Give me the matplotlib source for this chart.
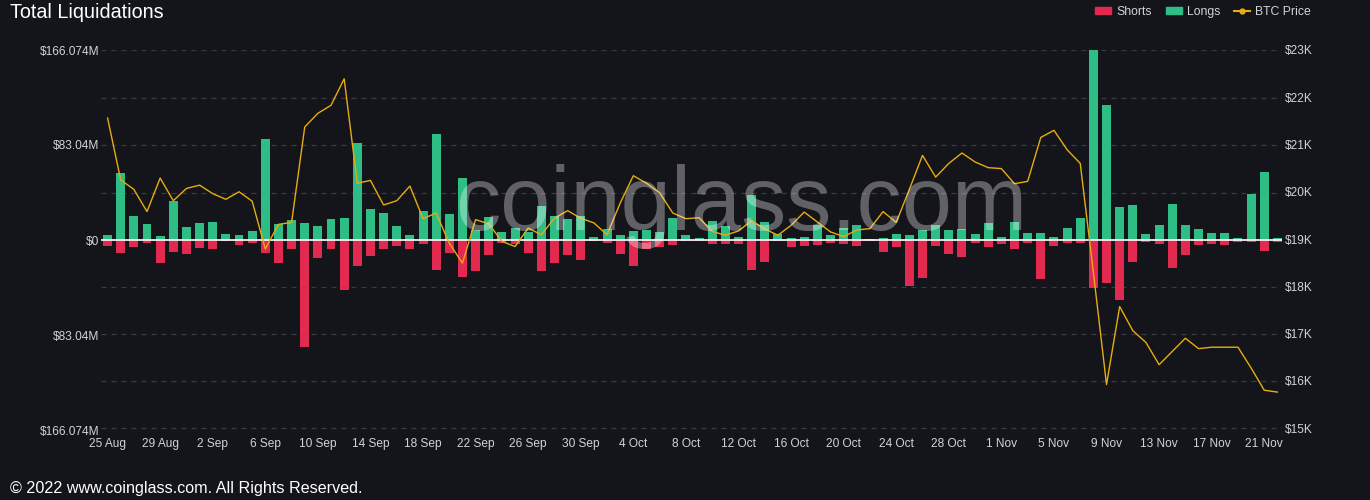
#Total liquidations (longs / shorts) with BTC price, coinglass style.
import matplotlib
matplotlib.use('Agg')
import matplotlib.pyplot as plt
from matplotlib.lines import Line2D
from matplotlib.patches import Patch
import numpy as np

# values in $M, one entry per day from 25 Aug to 22 Nov 2022
longs = [4.1, 58.6, 20.7, 13.7, 3.2, 34.4, 11.1, 15.2, 15.4, 5.2,
         4.7, 7.9, 88.3, 13.7, 17.2, 14.6, 12.2, 18.4, 18.9, 85.1,
         26.8, 23.6, 11.9, 4.1, 25.1, 93.0, 22.7, 54.5, 8.7, 19.8,
         6.7, 10.2, 7.3, 29.7, 21.0, 18.4, 20.7, 2.6, 9.6, 4.1,
         7.9, 8.5, 7.2, 19.0, 4.7, 1.4, 16.9, 12.2, 2.3, 39.3,
         16.0, 5.0, 2.0, 2.9, 13.4, 4.1, 10.8, 12.8, 0.9, 1.5,
         5.2, 4.4, 8.7, 12.8, 8.7, 9.3, 5.2, 14.6, 2.3, 15.7,
         5.8, 5.8, 2.3, 10.5, 18.9, 166.074, 117.7, 29.1, 30.3, 5.0,
         12.8, 31.2, 12.8, 9.3, 5.8, 5.8, 1.5, 40.2, 59.2, 1.5]
shorts = [5.0, 11.7, 5.8, 2.9, 19.8, 10.2, 11.9, 6.7, 7.6, 0.9,
          4.1, 2.9, 11.4, 20.4, 7.6, 93.2, 16.0, 7.6, 44.0, 22.7,
          13.7, 8.2, 5.5, 8.2, 3.2, 26.5, 11.1, 32.3, 26.7, 12.8,
          2.9, 3.5, 11.7, 26.8, 19.8, 13.4, 17.2, 0.6, 2.6, 12.2,
          22.4, 7.6, 6.4, 4.2, 1.0, 1.0, 3.2, 3.2, 3.8, 25.9,
          19.3, 0.8, 5.8, 5.2, 4.1, 2.3, 3.2, 5.0, 0.6, 10.8,
          6.1, 40.5, 33.5, 5.5, 11.9, 14.9, 2.3, 5.8, 3.2, 7.6,
          2.3, 34.4, 5.5, 2.3, 2.6, 42.3, 37.9, 52.2, 19.2, 2.0,
          3.2, 24.2, 13.4, 4.7, 3.8, 4.7, 1.7, 1.5, 9.9, 1.7]
# BTC price in $K
btc_price = [21.56, 20.25, 20.05, 19.58, 20.29, 19.81, 20.07, 20.14, 19.96, 19.84,
             20.00, 19.80, 18.79, 19.31, 19.35, 21.37, 21.66, 21.83, 22.39, 20.18,
             20.24, 19.72, 19.81, 20.12, 19.43, 19.55, 18.91, 18.49, 19.41, 19.32,
             18.95, 18.84, 19.23, 19.09, 19.44, 19.60, 19.44, 19.34, 19.09, 19.76,
             20.34, 20.18, 19.98, 19.55, 19.43, 19.45, 19.16, 19.08, 19.17, 19.39,
             19.21, 19.08, 19.29, 19.57, 19.36, 19.15, 19.05, 19.19, 19.22, 19.58,
             19.35, 20.05, 20.77, 20.31, 20.60, 20.82, 20.63, 20.51, 20.49, 20.17,
             20.22, 21.15, 21.30, 20.89, 20.60, 18.29, 15.92, 17.57, 17.06, 16.81,
             16.34, 16.62, 16.90, 16.68, 16.71, 16.71, 16.71, 16.27, 15.80, 15.76]
tick_labels = ['25 Aug', '29 Aug', '2 Sep', '6 Sep', '10 Sep', '14 Sep', '18 Sep',
               '22 Sep', '26 Sep', '30 Sep', '4 Oct', '8 Oct', '12 Oct', '16 Oct',
               '20 Oct', '24 Oct', '28 Oct', '1 Nov', '5 Nov', '9 Nov', '13 Nov',
               '17 Nov', '21 Nov']
left_ticks = [-166.074, -83.04, 0, 83.04, 166.074]
left_tick_labels = ['$166.074M', '$83.04M', '$0', '$83.04M', '$166.074M']
right_ticks = [15, 16, 17, 18, 19, 20, 21, 22, 23]

bg = '#14151a'
green = '#2ebd85'
red = '#e2294f'
gold = '#e6ac10'
txt = '#d2d3d6'
grid_c = '#3a3b42'

plt.rcParams['font.family'] = ['Liberation Sans', 'DejaVu Sans']

fig = plt.figure(figsize=(13.7, 5.0), dpi=100, facecolor=bg)
ax = fig.add_axes([101 / 1370, 70 / 500, 1181 / 1370, 380 / 500])
ax.set_facecolor(bg)

x = np.arange(len(longs))
ax.bar(x, longs, width=0.68, color=green, zorder=2)
ax.bar(x, -np.array(shorts), width=0.68, color=red, zorder=2)
ax.axhline(0, color='white', lw=1.2, zorder=3)

ax.set_xlim(-0.5, 89.35)
ax.set_ylim(-166.074, 166.074)
ax.set_yticks(left_ticks)
ax.set_yticklabels(left_tick_labels)
ax.set_xticks(x[::4])
ax.set_xticklabels(tick_labels)
ax.tick_params(axis='both', length=0, colors=txt, labelsize=8.6)
ax.tick_params(axis='y', pad=1)
ax.tick_params(axis='x', pad=6)
for s in ax.spines.values():
    s.set_visible(False)

# dashed grid at the price ticks, drawn under the bars
for v in right_ticks:
    if v < 19:
        gy = (v - 19) * 166.074 / (4 + 0.0423)
    else:
        gy = (v - 19) * 166.074 / 4
    ax.axhline(gy, color=grid_c, linestyle=(0, (4, 4)), lw=0.9, zorder=1)

ax2 = ax.twinx()
ax2.plot(x, btc_price, color=gold, lw=1.0, zorder=4)
ax2.set_ylim(15 - 2 / 47.3, 23)
ax2.set_yticks(right_ticks)
ax2.set_yticklabels(['$%dK' % v for v in right_ticks])
ax2.tick_params(axis='y', length=0, colors=txt, labelsize=8.6, pad=2)
for s in ax2.spines.values():
    s.set_visible(False)

fig.text(10 / 1370, 1 - 12 / 500, 'Total Liquidations', color='white', fontsize=14.2,
         va='center', ha='left')
fig.text(10 / 1370, 1 - 488 / 500, '\u00a9 2022 www.coinglass.com. All Rights Reserved.',
         color='white', fontsize=11.6, va='center', ha='left')
fig.text(741 / 1370, 1 - 230 / 500, 'coinglass.com', color='white', alpha=0.33,
         fontsize=65, ha='center', va='baseline', zorder=10)

handles = [Patch(color=red, label='Shorts'), Patch(color=green, label='Longs'),
           Line2D([0], [0], color=gold, lw=1.5, marker='o', markersize=3.5,
                  markerfacecolor=gold, label='BTC Price')]
fig.legend(handles=handles, loc='center right', bbox_to_anchor=(1322 / 1370, 1 - 12 / 500),
           ncol=3, frameon=False, fontsize=8.8, labelcolor=txt, handlelength=1.3,
           handleheight=0.5, handletextpad=0.45, columnspacing=1.1)

fig.savefig('out.png', dpi=100, facecolor=bg)
